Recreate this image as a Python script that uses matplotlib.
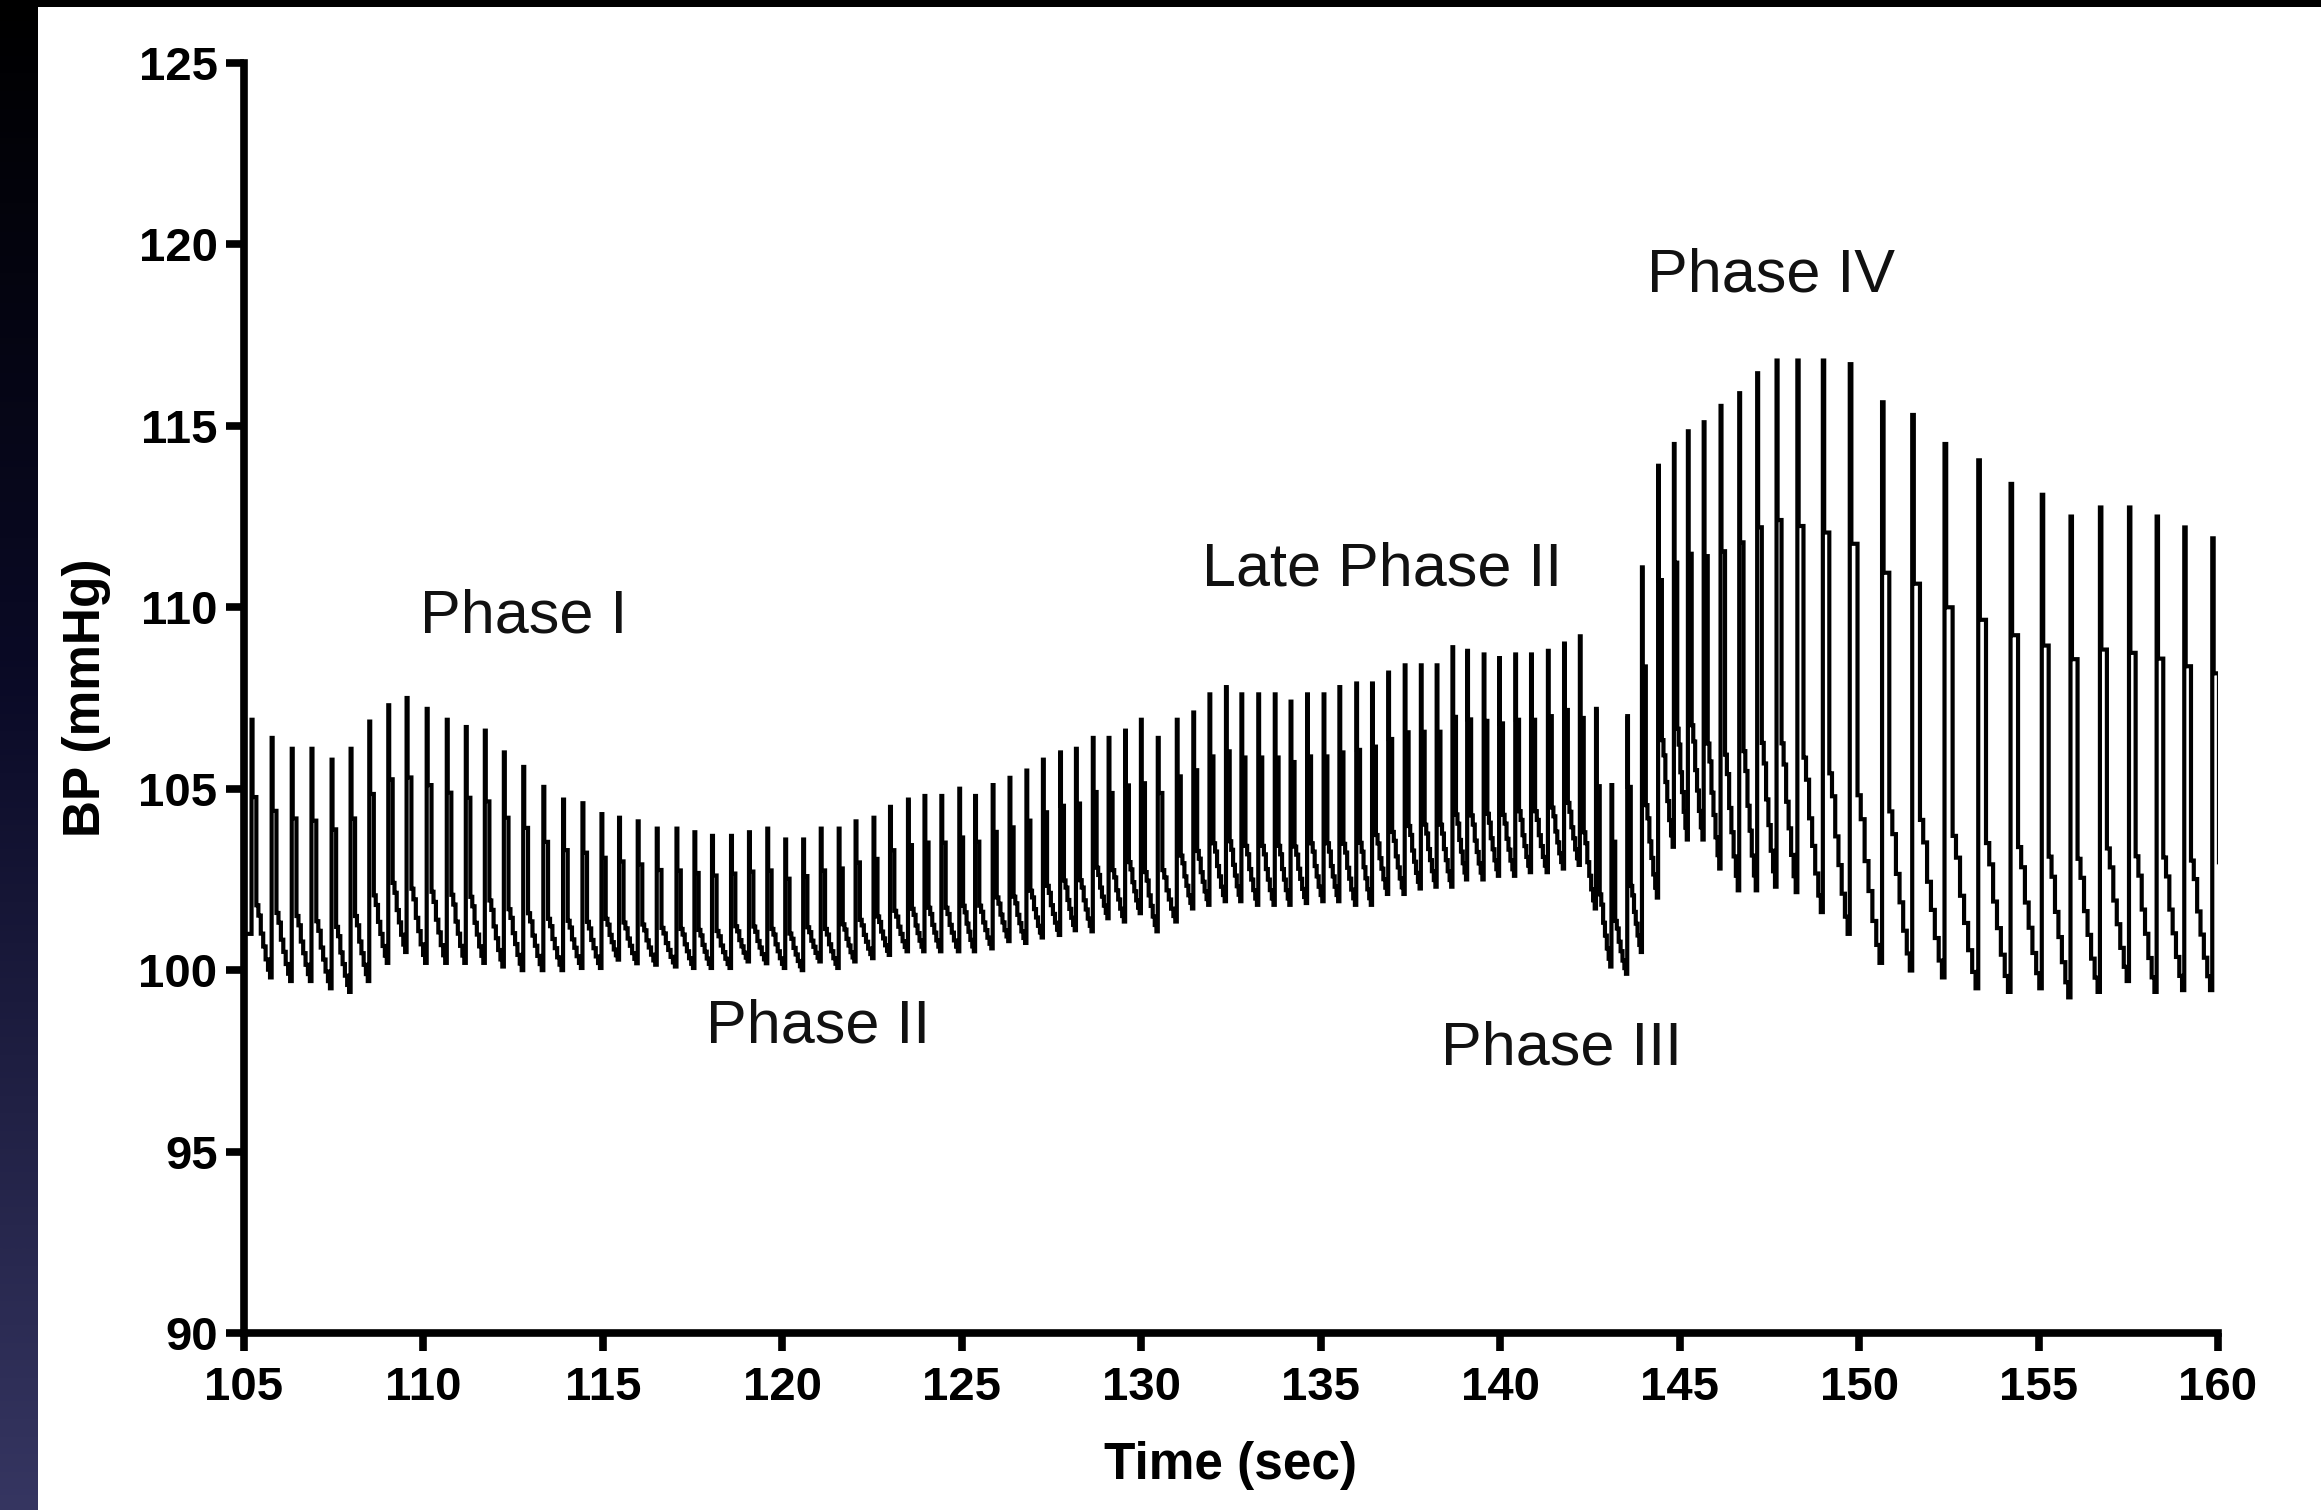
import numpy as np
import matplotlib
matplotlib.use("Agg")
import matplotlib.pyplot as plt
from matplotlib import font_manager
from matplotlib.colors import LinearSegmentedColormap

plt.rcParams['font.family'] = ['Liberation Sans', 'DejaVu Sans']

# ---------------- data ----------------
# time of each beat's upstroke / systolic peak (s)
beat_time = [
    105.21, 105.77, 106.33, 106.88, 107.44, 107.97, 108.49, 109.02, 109.53, 110.09,
    110.65, 111.18, 111.71, 112.24, 112.78, 113.34,
    113.89, 114.43, 114.96, 115.45, 115.97, 116.50, 117.05, 117.55, 118.04, 118.57,
    119.07, 119.58, 120.08, 120.58, 121.07, 121.57, 122.04, 122.54, 123.00, 123.50,
    123.96, 124.43, 124.93, 125.37, 125.86, 126.33, 126.80, 127.26, 127.74, 128.18,
    128.65, 129.09, 129.55, 129.99, 130.46,
    130.99, 131.45, 131.90, 132.36, 132.79, 133.26, 133.72, 134.16, 134.62, 135.08,
    135.52, 135.99, 136.43, 136.88, 137.34, 137.79, 138.23, 138.67, 139.08, 139.54,
    139.97, 140.42, 140.86, 141.33, 141.78, 142.22, 142.67, 143.10, 143.54, 143.95,
    144.40, 144.84, 145.23, 145.67, 146.14, 146.66, 147.16, 147.70, 148.28, 148.99,
    149.74, 150.64, 151.48, 152.38, 153.32, 154.22, 155.09, 155.89, 156.71, 157.52,
    158.29, 159.06, 159.84,
]
# systolic peak of each beat (mmHg)
systolic = [
    106.9, 106.4, 106.1, 106.1, 105.8, 106.1, 106.85, 107.3, 107.5, 107.2,
    106.9, 106.7, 106.6, 106.0, 105.6, 105.05,
    104.7, 104.6, 104.3, 104.2, 104.1, 103.9, 103.9, 103.8, 103.7, 103.7,
    103.8, 103.9, 103.6, 103.6, 103.9, 103.9, 104.1, 104.2, 104.5, 104.7,
    104.8, 104.8, 105.0, 104.8, 105.1, 105.3, 105.5, 105.8, 106.0, 106.1,
    106.4, 106.4, 106.6, 106.9, 106.4,
    106.9, 107.1, 107.6, 107.8, 107.6, 107.6, 107.6, 107.4, 107.6, 107.6,
    107.8, 107.9, 107.9, 108.2, 108.4, 108.4, 108.4, 108.9, 108.8, 108.7,
    108.6, 108.7, 108.7, 108.8, 109.0, 109.2, 107.2, 105.1, 107.0, 111.1,
    113.9, 114.5, 114.85, 115.1, 115.55, 115.9, 116.45, 116.8, 116.8, 116.8,
    116.7, 115.65, 115.3, 114.5, 114.05, 113.4, 113.1, 112.5, 112.75, 112.75,
    112.5, 112.2, 111.9,
]
# diastolic trough just before each beat, plus the one after the last beat (mmHg)
diastolic = [
    101.0, 99.8, 99.7, 99.7, 99.5, 99.4, 99.7, 100.2, 100.5, 100.2,
    100.2, 100.2, 100.2, 100.1, 100.0, 100.0,
    100.0, 100.06, 100.06, 100.29, 100.19, 100.15, 100.1, 100.06, 100.06, 100.06,
    100.24, 100.19, 100.06, 100.0, 100.24, 100.06, 100.24, 100.33, 100.42, 100.52,
    100.52, 100.52, 100.52, 100.52, 100.6, 100.8, 100.75, 100.9, 100.97, 101.1,
    101.07, 101.43, 101.34, 101.57, 101.07,
    101.34, 101.7, 101.8, 101.9, 101.9, 101.8, 101.8, 101.8, 101.85, 101.9,
    101.9, 101.8, 101.8, 102.1, 102.1, 102.25, 102.3, 102.3, 102.5, 102.5,
    102.6, 102.6, 102.7, 102.7, 102.8, 102.9, 101.7, 100.1, 99.9, 100.5,
    102.0, 103.4, 103.6, 103.6, 102.8, 102.2, 102.2, 102.3, 102.15, 101.6,
    101.0, 100.2, 99.99, 99.8, 99.5, 99.4, 99.5, 99.25, 99.4, 99.7,
    99.4, 99.45, 99.45, 99.5,
]
# shape of one pulse (sample-and-hold): fraction of the beat period, level between trough and peak
pulse_phase = [0.00, 0.05, 0.24, 0.34, 0.46, 0.58, 0.70, 0.82, 0.92]
pulse_level = [1.00, 0.70, 0.28, 0.24, 0.17, 0.12, 0.07, 0.03, 0.00]

x_ticks = [105, 110, 115, 120, 125, 130, 135, 140, 145, 150, 155, 160]
y_ticks = [90, 95, 100, 105, 110, 115, 120, 125]

phase_labels = ["Phase I", "Phase II", "Late Phase II", "Phase III", "Phase IV"]
phase_x = [112.8, 121.0, 136.7, 141.7, 147.55]
phase_y = [109.72, 98.42, 111.02, 97.82, 119.12]

# ---------------- build the trace from the beat values ----------------
t_trace = [105.0]
v_trace = [diastolic[0]]
n = len(beat_time)
for i in range(n):
    t0 = beat_time[i]
    period = (beat_time[i + 1] - t0) if i < n - 1 else (beat_time[i] - beat_time[i - 1])
    lo = diastolic[i + 1]
    hi = systolic[i]
    for f, lv in zip(pulse_phase, pulse_level):
        t_trace.append(t0 + f * period)
        v_trace.append(lo + lv * (hi - lo))

# ---------------- fonts ----------------
installed = {f.name for f in font_manager.fontManager.ttflist}
if 'Liberation Sans Narrow' in installed:
    tick_family, tick_size = 'Liberation Sans Narrow', 39
else:
    tick_family, tick_size = 'Liberation Sans', 34

# ---------------- figure ----------------
W, H = 2321, 1510
fig = plt.figure(figsize=(W / 100, H / 100), dpi=100)
fig.patch.set_facecolor('white')

# dark slide border: top band and left gradient strip
bg = fig.add_axes([0, 0, 1, 1], zorder=-5)
bg.set_axis_off()
bg.set_xlim(0, W)
bg.set_ylim(H, 0)
cmap = LinearSegmentedColormap.from_list(
    'slide', [(0.0, (0, 0, 0)), (0.45, (0.04, 0.04, 0.15)), (1.0, (0.21, 0.21, 0.38))])
grad = np.linspace(0, 1, 256).reshape(-1, 1)
bg.imshow(grad, cmap=cmap, extent=[0, 38, H, 0], aspect='auto', interpolation='bilinear')
bg.fill_between([0, W], 0, 7, color='black', lw=0)

ax = fig.add_axes([244 / W, (H - 1333) / H, (2218 - 244) / W, (1333 - 63) / H])
ax.set_facecolor('none')
ax.plot(t_trace, v_trace, drawstyle='steps-post', color='black', lw=3.0,
        solid_joinstyle='miter')

ax.set_xlim(105, 160)
ax.set_ylim(90, 125)
ax.set_xticks(x_ticks)
ax.set_yticks(y_ticks)
for s in ['top', 'right']:
    ax.spines[s].set_visible(False)
for s in ['left', 'bottom']:
    ax.spines[s].set_linewidth(5.5)
    ax.spines[s].set_capstyle('projecting')
ax.tick_params(axis='both', direction='out', length=13, width=5.5)
ax.tick_params(axis='x', pad=11)
ax.tick_params(axis='y', pad=6)
for lab in ax.get_xticklabels() + ax.get_yticklabels():
    lab.set_fontweight('bold')
    lab.set_fontfamily(tick_family)
    lab.set_fontsize(tick_size)

ax.set_xlabel('Time (sec)', fontsize=37, fontweight='bold', labelpad=22)
ax.set_ylabel('BP (mmHg)', fontsize=37, fontweight='bold', labelpad=20)

for lbl, x, y in zip(phase_labels, phase_x, phase_y):
    ax.text(x, y, lbl, fontsize=44, ha='center', va='center', color='#111111')

fig.savefig('out.png', dpi=100)
